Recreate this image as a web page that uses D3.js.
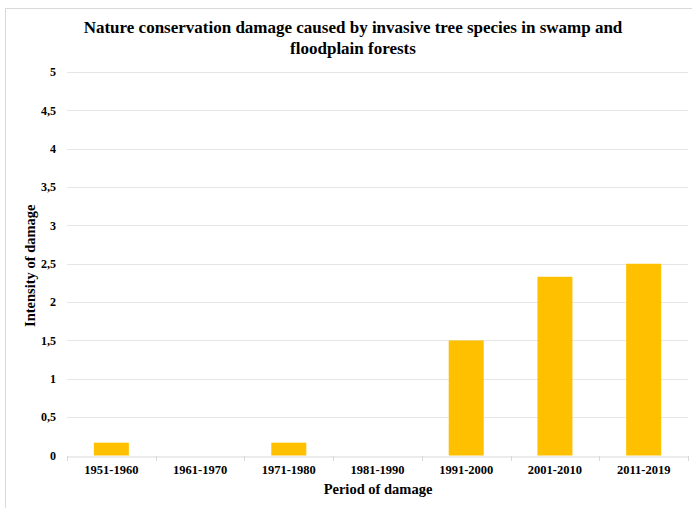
<!DOCTYPE html>
<html>
<head>
<meta charset="utf-8">
<script src="https://cdn.jsdelivr.net/npm/d3@7"></script>
<style>
  html, body { margin: 0; padding: 0; background: #fff; }
  svg { display: block; }
  svg text { font-family: "Liberation Serif", "DejaVu Serif", serif !important; font-weight: bold; fill: #000; }
</style>
</head>
<body>
<svg id="chart" width="692" height="508"></svg>
<script>
// Periods and damage intensity
const periods = ["1951-1960", "1961-1970", "1971-1980", "1981-1990", "1991-2000", "2001-2010", "2011-2019"];
const intensity = [0.167, 0, 0.167, 0, 1.5, 2.33, 2.5];
const yTicks = [0, 0.5, 1, 1.5, 2, 2.5, 3, 3.5, 4, 4.5, 5];

const titleLines = ["Nature conservation damage caused by invasive tree species in swamp and", "floodplain forests"];
const xTitle = "Period of damage";
const yTitle = "Intensity of damage";

const svg = d3.select("#chart");
const W = 692, H = 508;
const m = { left: 67, right: 4, top: 72, bottom: 52 };

// chart frame
svg.append("rect")
  .attr("x", 5.5).attr("y", 8.5)
  .attr("width", W + 10).attr("height", H + 10)
  .attr("fill", "#fff").attr("stroke", "#d9d9d9").attr("stroke-width", 1);

const xb = d3.scaleBand().domain(periods).range([m.left, W - m.right]);
const y = d3.scaleLinear().domain([0, 5]).range([H - m.bottom - 0.5, m.top]);

// gridlines
svg.append("g").selectAll("line").data(yTicks.filter(d => d > 0)).join("line")
  .attr("x1", m.left).attr("x2", W - m.right)
  .attr("y1", d => Math.round(y(d)) + 0.5).attr("y2", d => Math.round(y(d)) + 0.5)
  .attr("stroke", "#e6e6e6").attr("stroke-width", 1);

// bars
svg.append("g").selectAll("rect").data(periods).join("rect")
  .attr("x", (d) => xb(d) + (xb.bandwidth() - 35) / 2)
  .attr("width", 35)
  .attr("y", (d, i) => y(intensity[i]))
  .attr("height", (d, i) => y(0) - y(intensity[i]))
  .attr("fill", "#ffc000");

// x axis
const xAxis = d3.axisBottom(xb).tickSize(0).tickPadding(9);
const gx = svg.append("g").attr("transform", `translate(0,${Math.round(y(0)) + 0.5})`).call(xAxis);
gx.attr("font-family", null);
gx.select(".domain").attr("stroke", "#d9d9d9");
gx.selectAll("text").style("font-size", "12.5px");
// category separators
svg.append("g").selectAll("line").data(periods.concat(["end"])).join("line")
  .attr("x1", (d, i) => Math.round(m.left + i * xb.step()) + 0.5)
  .attr("x2", (d, i) => Math.round(m.left + i * xb.step()) + 0.5)
  .attr("y1", Math.round(y(0))).attr("y2", Math.round(y(0)) + 5)
  .attr("stroke", "#d9d9d9");

// y axis labels
const yAxis = d3.axisLeft(y).tickValues(yTicks).tickSize(0).tickPadding(11)
  .tickFormat(d => String(d).replace(".", ","));
const gy = svg.append("g").attr("transform", `translate(${m.left},0)`).call(yAxis);
gy.attr("font-family", null);
gy.select(".domain").remove();
gy.selectAll("text").style("font-size", "12px");

// titles
svg.append("text").attr("text-anchor", "middle").style("font-size", "17px")
  .selectAll("tspan").data(titleLines).join("tspan")
  .attr("x", 353).attr("y", (d, i) => 33 + i * 21).text(d => d);

svg.append("text").attr("x", 378).attr("y", 494).attr("text-anchor", "middle")
  .style("font-size", "14.5px").text(xTitle);

svg.append("text").attr("transform", `translate(35,${(y(0) + y(5)) / 2 + 2}) rotate(-90)`)
  .attr("text-anchor", "middle").style("font-size", "14.5px").text(yTitle);
</script>
</body>
</html>
